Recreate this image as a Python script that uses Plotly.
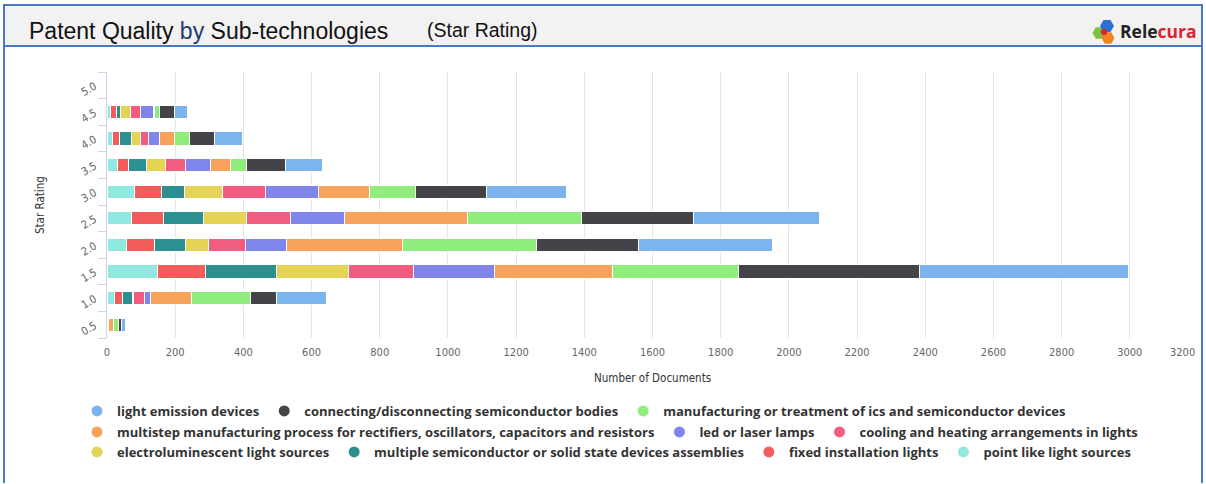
import plotly.graph_objects as go

# ---------------- data ----------------
stars = ["0.5", "1.0", "1.5", "2.0", "2.5", "3.0", "3.5", "4.0", "4.5", "5.0"]

# stack order (left -> right)
series_names = [
    "point like light sources",
    "fixed installation lights",
    "multiple semiconductor or solid state devices assemblies",
    "electroluminescent light sources",
    "cooling and heating arrangements in lights",
    "led or laser lamps",
    "multistep manufacturing process for rectifiers, oscillators, capacitors and resistors",
    "manufacturing or treatment of ics and semiconductor devices",
    "connecting/disconnecting semiconductor bodies",
    "light emission devices",
]
point_like = [5, 22, 149, 58, 73, 81, 31, 15, 9, 3]
fixed_install = [0, 24, 139, 82, 92, 78, 31, 23, 20, 0]
multiple_semi = [0, 30, 209, 90, 119, 69, 53, 35, 12, 0]
electrolum = [0, 2, 210, 67, 125, 112, 57, 25, 28, 0]
cooling = [0, 31, 193, 109, 129, 126, 58, 24, 28, 0]
led_laser = [0, 19, 238, 120, 160, 154, 75, 31, 38, 0]
multistep = [13, 119, 345, 340, 359, 149, 56, 46, 5, 0]
manufacturing = [15, 175, 369, 393, 334, 136, 48, 42, 14, 0]
connecting = [9, 75, 531, 299, 328, 209, 115, 75, 44, 0]
light_emission = [12, 146, 612, 395, 372, 233, 109, 80, 39, 0]
series_values = [point_like, fixed_install, multiple_semi, electrolum, cooling,
                 led_laser, multistep, manufacturing, connecting, light_emission]
series_colors = ["#91e8e1", "#f45b5b", "#2b908f", "#e4d354", "#f15c80",
                 "#8085e9", "#f7a35c", "#90ed7d", "#434348", "#7cb5ec"]

x_ticks = [0, 200, 400, 600, 800, 1000, 1200, 1400, 1600, 1800, 2000,
           2200, 2400, 2600, 2800, 3000]

# legend rows (indices into series_names)
legend_rows = [[9, 8, 7], [6, 5, 4], [3, 2, 1, 0]]

# ---------------- layout geometry (pixels) ----------------
W, H = 1206, 484
PL, PR, PT, PB = 107, 1198, 72, 338


def px(x):
    return (x - PL) / (PR - PL)


def py(y):
    return (PB - y) / (PB - PT)


fig = go.Figure()

for name, vals, col in zip(series_names, series_values, series_colors):
    fig.add_trace(go.Bar(
        y=stars, x=vals, name=name, orientation="h",
        marker=dict(color=col, line=dict(color="white", width=1)),
        showlegend=False, hoverinfo="x+name",
    ))

legend_ids = ["legend", "legend2", "legend3"]
for li, row in enumerate(legend_rows):
    for idx in row:
        fig.add_trace(go.Scatter(
            x=[None], y=[None], mode="markers", name=series_names[idx],
            marker=dict(size=11, color=series_colors[idx], symbol="circle"),
            legend=legend_ids[li], showlegend=True,
        ))

legend_common = dict(
    orientation="h", xanchor="left", yanchor="middle", traceorder="normal",
    font=dict(family="Open Sans, DejaVu Sans, sans-serif", size=13, color="#333333", weight="bold"),
    bgcolor="rgba(0,0,0,0)", itemclick=False, itemdoubleclick=False,
)
row_y = [411, 432, 452]

fig.update_layout(
    width=W, height=H,
    margin=dict(l=PL, r=W - PR, t=PT, b=H - PB, pad=0),
    paper_bgcolor="white", plot_bgcolor="white",
    barmode="stack", bargap=0.5,
    legend=dict(x=px(77), y=py(row_y[0]), **legend_common),
    legend2=dict(x=px(77), y=py(row_y[1]), **legend_common),
    legend3=dict(x=px(77), y=py(row_y[2]), **legend_common),
    xaxis=dict(
        range=[0, 3200], tickvals=x_ticks, ticktext=[str(v) for v in x_ticks],
        showgrid=True, gridcolor="#e6e6e6", gridwidth=1, zeroline=False,
        showline=False, ticks="",
        tickfont=dict(family="DejaVu Sans Condensed, Liberation Sans Narrow, DejaVu Sans, sans-serif",
                      size=11, color="#666666"),
        ticklabelstandoff=6, fixedrange=True,
    ),
    yaxis=dict(
        type="category", categoryorder="array", categoryarray=stars,
        range=[-0.5, 9.5], showgrid=False, zeroline=False,
        showline=True, linecolor="#ccd6eb", linewidth=1,
        ticks="outside", ticklen=8, tickcolor="#ccd6eb", tickson="boundaries",
        tickangle=-30,
        tickfont=dict(family="DejaVu Sans Condensed, Liberation Sans Narrow, DejaVu Sans, sans-serif",
                      size=11, color="#666666"),
        ticklabelstandoff=9, fixedrange=True,
    ),
)

# ---------------- frame / header ----------------
BLUE = "#4a78c8"
shapes = [
    dict(type="rect", xref="paper", yref="paper", x0=px(4), x1=px(1202), y0=py(46), y1=py(6),
         fillcolor="#f2f2f2", line=dict(width=0), layer="below"),
    dict(type="line", xref="paper", yref="paper", x0=px(3), x1=px(1203), y0=py(5), y1=py(5),
         line=dict(color=BLUE, width=2)),
    dict(type="line", xref="paper", yref="paper", x0=px(3), x1=px(1203), y0=py(46), y1=py(46),
         line=dict(color=BLUE, width=2)),
    dict(type="line", xref="paper", yref="paper", x0=px(4), x1=px(4), y0=py(5), y1=py(483),
         line=dict(color=BLUE, width=2)),
    dict(type="line", xref="paper", yref="paper", x0=px(1202), x1=px(1202), y0=py(5), y1=py(483),
         line=dict(color=BLUE, width=2)),
]


def hexpath(cx, cy, r):
    import math
    pts = []
    for k in range(6):
        a = math.radians(60 * k)
        pts.append((px(cx + r * math.cos(a)), py(cy + r * math.sin(a))))
    return "M " + " L ".join(f"{x:.5f},{y:.5f}" for x, y in pts) + " Z"


for cx, cy, r, col in [(1099, 33, 6.5, "#7cc242"), (1107, 26, 7, "#2f6fd0"),
                       (1108, 38, 6.5, "#f58220"), (1104, 32, 3.5, "#d9232e")]:
    shapes.append(dict(type="path", xref="paper", yref="paper", path=hexpath(cx, cy, r),
                       fillcolor=col, line=dict(width=0)))
fig.update_layout(shapes=shapes)

annotations = [
    dict(text="Patent Quality <span style='color:#1f3a6e'>by</span> Sub-technologies",
         x=px(27), y=py(31), xanchor="left", yanchor="middle",
         font=dict(family="Liberation Sans, Arial, sans-serif", size=23, color="#111111")),
    dict(text="(Star Rating)", x=px(425), y=py(30), xanchor="left", yanchor="middle",
         font=dict(family="Liberation Sans, Arial, sans-serif", size=19.5, color="#111111")),
    dict(text="<b>Rele<span style='color:#d9232e'>cura</span></b>", x=px(1118), y=py(31),
         xanchor="left", yanchor="middle",
         font=dict(family="Open Sans, DejaVu Sans, sans-serif", size=17.5, color="#222222")),
    dict(text="3200", x=px(1182), y=py(352), xanchor="center", yanchor="middle",
         font=dict(family="DejaVu Sans Condensed, Liberation Sans Narrow, DejaVu Sans, sans-serif",
                   size=11, color="#666666")),
    dict(text="Number of Documents", x=px(652), y=py(378), xanchor="center", yanchor="middle",
         font=dict(family="DejaVu Sans Condensed, Liberation Sans Narrow, DejaVu Sans, sans-serif",
                   size=11.5, color="#333333")),
    dict(text="Star Rating", x=px(40), y=py(205), xanchor="center", yanchor="middle",
         textangle=-90,
         font=dict(family="DejaVu Sans Condensed, Liberation Sans Narrow, DejaVu Sans, sans-serif",
                   size=11.5, color="#333333")),
]
for a in annotations:
    a.update(xref="paper", yref="paper", showarrow=False)
fig.update_layout(annotations=annotations)

fig.write_html("out.html", config={"displayModeBar": False})
